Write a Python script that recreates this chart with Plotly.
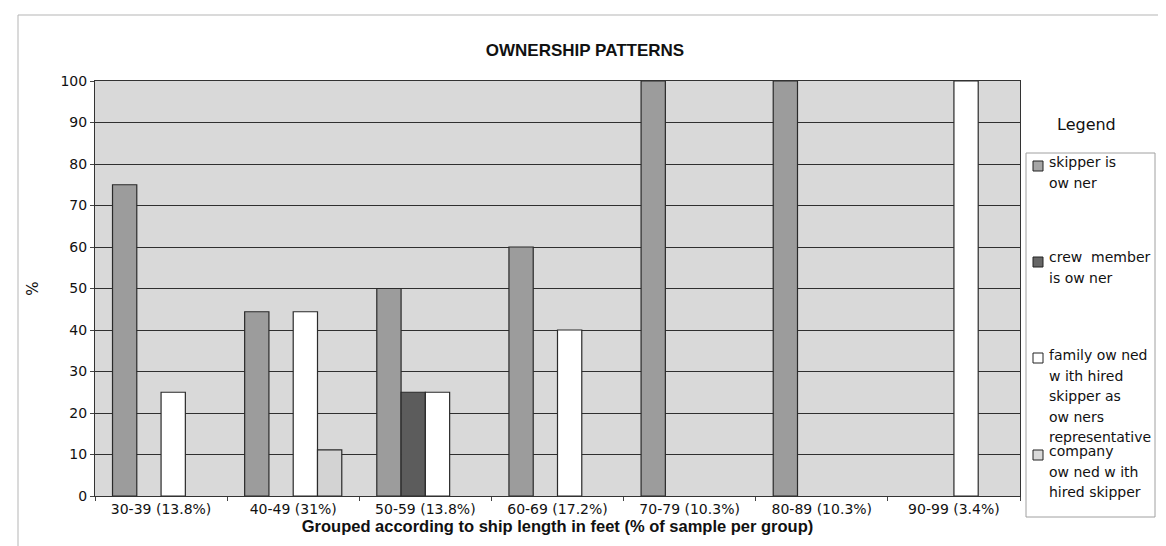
import plotly.graph_objects as go

# ---- data ----
categories = ["30-39 (13.8%)", "40-49 (31%)", "50-59 (13.8%)", "60-69 (17.2%)",
              "70-79 (10.3%)", "80-89 (10.3%)", "90-99 (3.4%)"]
skipper_owner = [75, 44.4, 50, 60, 100, 100, 0]
crew_owner = [0, 0, 25, 0, 0, 0, 0]
family_owned = [25, 44.4, 25, 40, 0, 0, 100]
company_owned = [0, 11.1, 0, 0, 0, 0, 0]

series_names = ["skipper is ow ner", "crew  member is ow ner",
                "family ow ned w ith hired skipper as ow ners representative",
                "company ow ned w ith hired skipper"]
legend_lines = [["skipper is", "ow ner"],
                ["crew  member", "is ow ner"],
                ["family ow ned", "w ith hired", "skipper as", "ow ners", "representative"],
                ["company", "ow ned w ith", "hired skipper"]]
y_ticks = [0, 10, 20, 30, 40, 50, 60, 70, 80, 90, 100]

title_text = "OWNERSHIP PATTERNS"
x_title = "Grouped according to ship length in feet (% of sample per group)"
y_title = "%"

# ---- styles ----
colors = ["#9c9c9c", "#5c5c5c", "#ffffff", "#d3d3d3"]
legend_colors = ["#a6a6a6", "#666666", "#ffffff", "#d9d9d9"]
W, H = 1166, 546
L, R, T, B = 87, 154, 73, 58
PW, PH = W - L - R, H - T - B
TICK_FONT = dict(family="DejaVu Sans", size=14, color="#111111")


def px(xp):
    return (xp - L) / PW


def py(yp):
    return (H - B - yp) / PH


fig = go.Figure()
for name, vals, col in zip(series_names,
                           [skipper_owner, crew_owner, family_owned, company_owned],
                           colors):
    # zero shares are left undrawn (no outline sliver on the baseline)
    fig.add_trace(go.Bar(x=categories, y=[v if v else None for v in vals], name=name,
                         showlegend=False,
                         marker=dict(color=col, line=dict(color="#2a2a2a", width=1.2))))

fig.update_layout(
    width=W, height=H,
    margin=dict(l=L, r=R, t=T, b=B, pad=0),
    paper_bgcolor="white",
    plot_bgcolor="#d9d9d9",
    barmode="group", bargap=0.265, bargroupgap=0,
    title=dict(text="<b>" + title_text + "</b>", x=577 / W, xanchor="center",
               y=1 - 42 / H, yanchor="middle",
               font=dict(family="Liberation Sans", size=17, color="#111111")),
    xaxis=dict(type="category", tickson="boundaries", ticks="outside", ticklen=4,
               tickcolor="#444444", showline=True, linecolor="#333333", mirror=True,
               showgrid=False, tickfont=TICK_FONT,
               title=dict(text="<b>" + x_title + "</b>", standoff=4,
                          font=dict(family="Liberation Sans", size=16.5, color="#111111"))),
    yaxis=dict(range=[0, 100], tickvals=y_ticks, ticks="outside", ticklen=4,
               tickcolor="#444444", showline=True, linecolor="#333333", mirror=True,
               showgrid=True, gridcolor="#2f2f2f", gridwidth=1, zeroline=False,
               tickfont=TICK_FONT,
               title=dict(text=y_title, standoff=18,
                          font=dict(family="DejaVu Sans", size=15, color="#111111"))),
)

shapes = []
annotations = []
# outer chart border
shapes.append(dict(type="rect", xref="paper", yref="paper", x0=px(10), x1=px(1163),
                   y0=py(543), y1=py(7), line=dict(color="#b5b5b5", width=1),
                   layer="below"))
# legend box
shapes.append(dict(type="rect", xref="paper", yref="paper", x0=px(1018), x1=px(1147),
                   y0=py(509), y1=py(145), line=dict(color="#a0a0a0", width=1),
                   fillcolor="white"))
annotations.append(dict(text="Legend", xref="paper", yref="paper", x=px(1078), y=py(116),
                        xanchor="center", yanchor="middle", showarrow=False,
                        font=dict(family="DejaVu Sans", size=16, color="#111111")))

first_line_y = [154, 249, 347, 443]
marker_y = [158, 254, 350, 447]
line_step = 20.5
for lines, y0, my, col in zip(legend_lines, first_line_y, marker_y, legend_colors):
    shapes.append(dict(type="rect", xref="paper", yref="paper",
                       x0=px(1025), x1=px(1035), y0=py(my + 5), y1=py(my - 5),
                       fillcolor=col, line=dict(color="#222222", width=1)))
    for i, ln in enumerate(lines):
        annotations.append(dict(text=ln, xref="paper", yref="paper", x=px(1039),
                                y=py(y0 + i * line_step), xanchor="left", yanchor="middle",
                                showarrow=False,
                                font=dict(family="DejaVu Sans", size=14, color="#111111")))

fig.update_layout(shapes=shapes, annotations=annotations)
fig.write_html("out.html")
